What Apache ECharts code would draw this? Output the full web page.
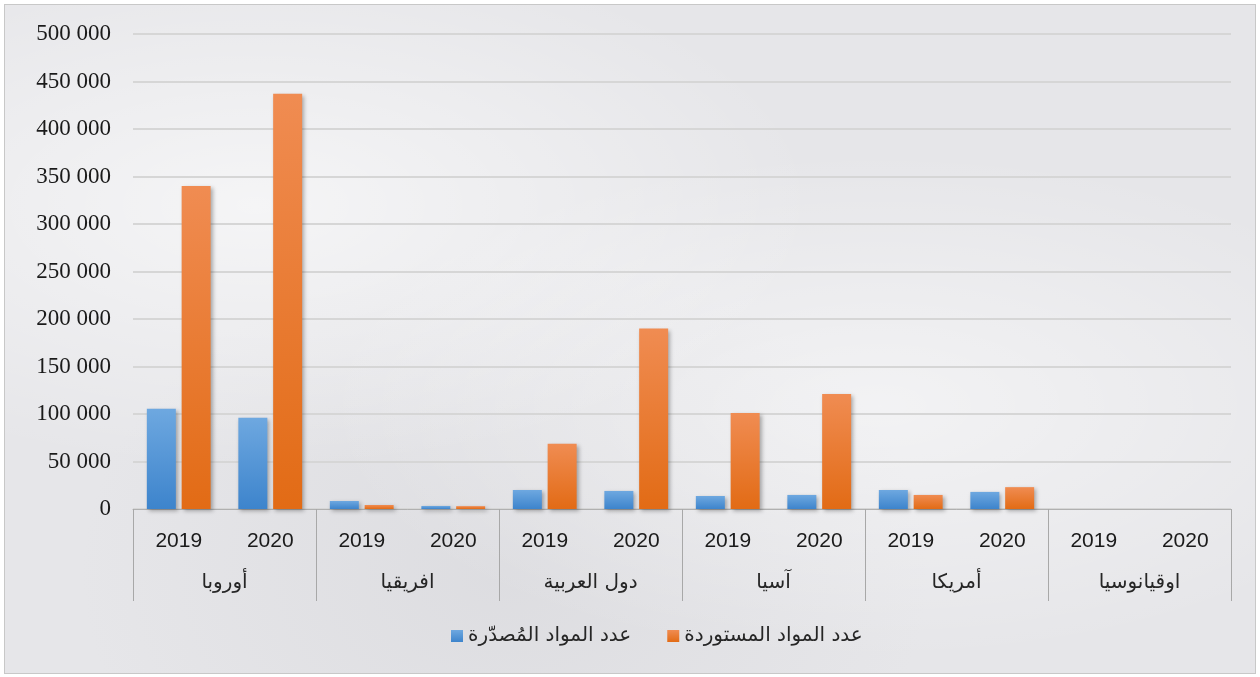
<!DOCTYPE html>
<html>
<head>
<meta charset="utf-8">
<script src="https://cdn.jsdelivr.net/npm/echarts@6/dist/echarts.min.js"></script>
<style>
  html, body { margin: 0; padding: 0; }
  body { width: 1260px; height: 677px; background: #ffffff; }
  #chart {
    position: absolute; left: 4px; top: 4px; width: 1250px; height: 668px;
    border: 1px solid #c8c8c8;
    background:
      radial-gradient(ellipse at 20% 30%, rgba(255,255,255,0.6), rgba(255,255,255,0) 40%),
      radial-gradient(ellipse at 70% 60%, rgba(255,255,255,0.5), rgba(255,255,255,0) 45%),
      radial-gradient(ellipse at 40% 85%, rgba(200,200,205,0.3), rgba(200,200,205,0) 40%),
      #e6e6e9;
  }
</style>
</head>
<body>
<div id="chart"></div>
<script>
var regions = ['أوروبا', 'افريقيا', 'دول العربية', 'آسيا', 'أمريكا', 'اوقيانوسيا'];
var years = ['2019', '2020'];
var exported = [105500, 96000, 8400, 3200, 20000, 19000, 13700, 14800, 20000, 18000, 0, 0];
var imported = [340000, 437000, 4200, 3000, 68600, 190000, 101000, 121000, 14800, 23000, 0, 0];
var seriesNames = ['عدد المواد المُصدّرة', 'عدد المواد المستوردة'];

var yearCats = [];
regions.forEach(function (r) {
    years.forEach(function (y) { yearCats.push(y); });
});

var chart = echarts.init(document.getElementById('chart'));

function grad(top, bottom) {
    return new echarts.graphic.LinearGradient(0, 0, 0, 1, [
        { offset: 0, color: top },
        { offset: 1, color: bottom }
    ]);
}

var option = {
    backgroundColor: 'transparent',
    animation: false,
    grid: { left: 128, right: 24, top: 29, bottom: 164 },
    legend: {
        bottom: 22,
        left: 441,
        itemWidth: 12,
        itemHeight: 12,
        itemGap: 36,
        icon: 'rect',
        textStyle: { fontFamily: 'DejaVu Sans', fontSize: 20, color: '#262626' },
        data: seriesNames
    },
    xAxis: [
        {
            type: 'category',
            data: yearCats,
            axisLine: { lineStyle: { color: '#b0b0b0', width: 1 } },
            axisTick: { show: false },
            axisLabel: { margin: 22, fontFamily: 'Liberation Sans', fontSize: 21, color: '#1a1a1a', interval: 0 }
        },
        {
            type: 'category',
            position: 'bottom',
            data: regions,
            axisLine: { show: false },
            axisTick: { show: true, length: 92, lineStyle: { color: '#a8a8a8' } },
            axisLabel: { margin: 64, fontFamily: 'DejaVu Sans', fontSize: 20, color: '#262626', interval: 0 }
        }
    ],
    yAxis: {
        type: 'value',
        min: 0,
        max: 500000,
        interval: 50000,
        axisLine: { show: false },
        axisTick: { show: false },
        splitLine: { lineStyle: { color: '#d6d6d6', width: 2 } },
        axisLabel: {
            margin: 22,
            fontFamily: 'Liberation Serif',
            fontSize: 23,
            color: '#1a1a1a',
            formatter: function (v) {
                return String(v).replace(/\B(?=(\d{3})+(?!\d))/g, ' ');
            }
        }
    },
    series: [
        {
            name: seriesNames[0],
            type: 'bar',
            data: exported,
            barWidth: 29,
            barGap: '20%',
            itemStyle: {
                color: grad('#6ea8e0', '#3d84cc'),
                shadowBlur: 4, shadowColor: 'rgba(0,0,0,0.3)', shadowOffsetX: 2, shadowOffsetY: 2
            }
        },
        {
            name: seriesNames[1],
            type: 'bar',
            data: imported,
            barWidth: 29,
            itemStyle: {
                color: grad('#f08c52', '#e26b15'),
                shadowBlur: 4, shadowColor: 'rgba(0,0,0,0.3)', shadowOffsetX: 2, shadowOffsetY: 2
            }
        }
    ]
};

chart.setOption(option);
</script>
</body>
</html>
